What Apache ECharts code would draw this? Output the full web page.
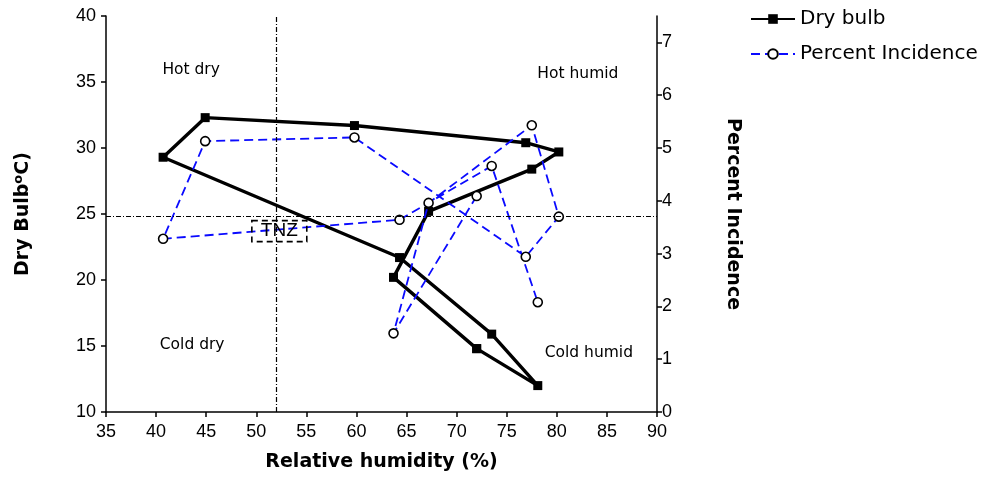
<!DOCTYPE html>
<html>
<head>
<meta charset="utf-8">
<script src="https://cdn.jsdelivr.net/npm/echarts@6/dist/echarts.min.js"></script>
<style>
  html, body { margin: 0; padding: 0; background: #fff; }
  #chart { width: 1000px; height: 477px; }
</style>
</head>
<body>
<div id="chart"></div>
<script>
// month order as drawn (same RH value for both series)
const rh = [72.0, 63.7, 67.2, 77.5, 80.2, 76.9, 59.8, 44.9, 40.7, 64.3, 73.5, 78.1];
const dryBulb = [14.8, 20.2, 25.2, 28.4, 29.7, 30.4, 31.7, 32.3, 29.3, 21.7, 15.9, 12.0];
const incidence = [4.09, 1.49, 3.96, 5.43, 3.70, 2.94, 5.20, 5.13, 3.28, 3.64, 4.66, 2.08];

// thermo-neutral zone reference lines
const tnzRh = 52;
const tnzDb = 24.8;

// zone labels, placed in data units
const zoneNames = ['Hot dry', 'Hot humid', 'Cold dry', 'Cold humid'];
const zoneRh = [43.5, 82.1, 43.6, 83.2];
const zoneDb = [35.9, 35.6, 15.1, 14.5];
const tnzLabel = { name: 'TNZ', rh: 52.3, db: 23.7 };

const rightTicks = [0, 1, 2, 3, 4, 5, 6, 7];

const font = '"Liberation Sans", Arial, sans-serif';
const wideFont = '"DejaVu Sans", sans-serif';

// dry bulb loop closes back on its first month
const dryData = rh.map((x, i) => [x, dryBulb[i]]);
dryData.push([rh[0], dryBulb[0]]);
const incData = rh.map((x, i) => [x, incidence[i]]);

const labelData = zoneNames.map((n, i) => ({ name: n, value: [zoneRh[i], zoneDb[i]] }));

const chart = echarts.init(document.getElementById('chart'));

const axisLine = { show: true, lineStyle: { color: '#000', width: 1.5 } };
const axisTick = { show: true, length: 5, lineStyle: { color: '#000', width: 1.5 } };
const titleStyle = { fontSize: 19, fontWeight: 'bold', fontFamily: wideFont, color: '#000' };

const option = {
    animation: false,
    textStyle: { fontFamily: font, color: '#000' },
    grid: { left: 106, right: 343, top: 16, bottom: 62 },
    legend: {
        orient: 'vertical',
        left: 745,
        top: 4,
        itemWidth: 44,
        itemHeight: 12,
        itemGap: 15,
        textStyle: { fontSize: 20, fontFamily: wideFont, color: '#000' },
        data: ['Dry bulb', 'Percent Incidence']
    },
    xAxis: {
        type: 'value',
        min: 35,
        max: 90,
        interval: 5,
        name: 'Relative humidity (%)',
        nameLocation: 'middle',
        nameGap: 41,
        nameTextStyle: titleStyle,
        axisLine: axisLine,
        axisTick: axisTick,
        axisLabel: { fontSize: 18, color: '#000', margin: 11 },
        splitLine: { show: false }
    },
    yAxis: [
        {
            type: 'value',
            min: 10,
            max: 40,
            interval: 5,
            name: '{b|Dry Bulb}{s|o}{b|C)}',
            nameLocation: 'middle',
            nameGap: 72,
            nameTextStyle: {
                rich: {
                    b: titleStyle,
                    s: { fontSize: 13, fontWeight: 'bold', fontFamily: wideFont, color: '#000', verticalAlign: 'top', padding: [0, 0, 9, 0] }
                }
            },
            axisLine: axisLine,
            axisTick: axisTick,
            axisLabel: { fontSize: 18, color: '#000', margin: 10 },
            splitLine: { show: false }
        },
        {
            type: 'value',
            min: 0,
            max: 7.5,
            interval: 1,
            position: 'right',
            name: 'Percent Incidence',
            nameLocation: 'middle',
            nameRotate: -90,
            nameGap: 66,
            nameTextStyle: titleStyle,
            axisLine: axisLine,
            axisTick: Object.assign({ customValues: rightTicks }, axisTick),
            axisLabel: { fontSize: 18, color: '#000', margin: 5, customValues: rightTicks },
            splitLine: { show: false }
        }
    ],
    series: [
        {
            name: 'Dry bulb',
            type: 'line',
            yAxisIndex: 0,
            data: dryData,
            symbol: 'rect',
            symbolSize: 9,
            itemStyle: { color: '#000' },
            lineStyle: { color: '#000', width: 3.4 },
            z: 3,
            markLine: {
                silent: true,
                symbol: 'none',
                label: { show: false },
                lineStyle: { color: '#000', width: 1.2, type: [5, 2, 1, 2] },
                data: [{ xAxis: tnzRh }, { yAxis: tnzDb }]
            }
        },
        {
            name: 'Percent Incidence',
            type: 'line',
            yAxisIndex: 1,
            data: incData,
            symbol: 'circle',
            symbolSize: 9,
            itemStyle: { color: '#fff', borderColor: '#000', borderWidth: 1.6 },
            lineStyle: { color: '#0a0aff', width: 1.8, type: [9, 5] },
            z: 4
        },
        {
            name: 'zones',
            type: 'scatter',
            yAxisIndex: 0,
            silent: true,
            symbol: 'circle',
            symbolSize: 0.1,
            itemStyle: { color: '#fff', opacity: 1 },
            label: {
                show: true,
                position: 'inside',
                formatter: '{b}',
                fontSize: 15.5,
                color: '#000',
                opacity: 1,
                fontFamily: wideFont
            },
            data: labelData.concat([{
                name: tnzLabel.name,
                value: [tnzLabel.rh, tnzLabel.db],
                label: {
                    fontSize: 19,
                    fontFamily: font,
                    color: '#000',
                    padding: [2, 9, 0, 9],
                    borderColor: '#000',
                    borderWidth: 1.6,
                    borderType: [6, 4]
                }
            }]),
            z: 5
        }
    ]
};

chart.setOption(option);
</script>
</body>
</html>
